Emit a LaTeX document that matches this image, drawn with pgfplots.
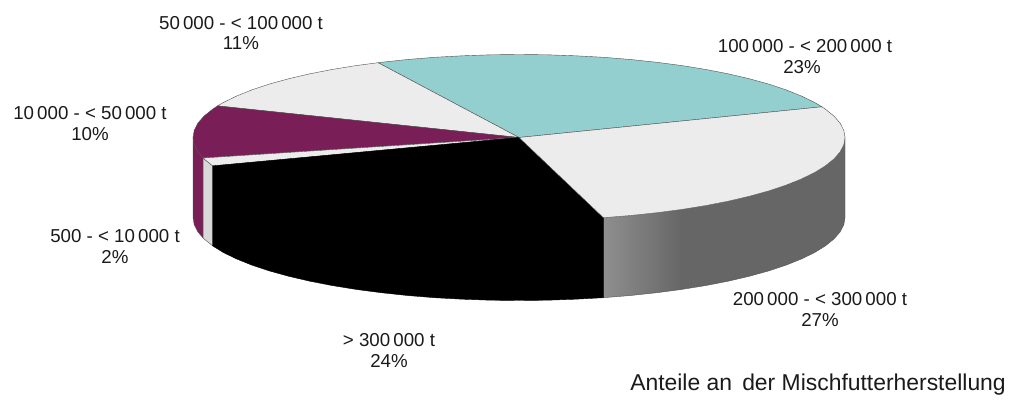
\documentclass[border=0pt]{standalone}
\usepackage{pgfplots}
\pgfplotsset{compat=1.18}
\usepackage{fontspec}
\setmainfont{Liberation Sans}
\definecolor{lgray}{HTML}{ECECEC}
\definecolor{teal1}{HTML}{93CFCF}
\definecolor{purp}{HTML}{7A1E58}
\definecolor{edge}{HTML}{505050}
\definecolor{txt}{HTML}{1A1A1A}
\begin{document}
\begin{tikzpicture}
\useasboundingbox (0,0) rectangle (1014pt,401pt);
\begin{axis}[at={(0,0)},anchor=south west,scale only axis,width=1014pt,height=401pt,
  xmin=0,xmax=1014,ymin=0,ymax=401,y dir=reverse,hide axis,clip=false]
% --- side wall: purple
\addplot[fill=purp,draw=edge,line width=0.4pt] coordinates {(193,137.5)(194.2,144.7)(197.9,151.9)(203.1,158)(203.1,238)(197.9,231.9)(194.2,224.7)(193,217.5)} -- cycle;
% side wall: light
\addplot[fill=lgray!92!black,draw=edge,line width=0.4pt] coordinates {(203.1,158)(204.1,159)(212.7,165.9)(212.7,245.9)(204.1,239)(203.1,238)} -- cycle;
% side wall: gray with gradient
\addplot[left color=black!44,right color=black!60,draw=none] coordinates {(603.4,217.7)(630.5,215.5)(656.8,212.7)(682,209.4)(682,289.4)(656.8,292.7)(630.5,295.5)(603.4,297.7)} -- cycle;
\addplot[fill=black!60,draw=none] coordinates {(681.5,209.4)(706,205.5)(728.6,201.1)(749.5,196.2)(768.7,190.9)(786.1,185.1)(801.3,179)(814.5,172.6)(825.3,165.9)(833.9,159)(840.1,151.9)(843.8,144.7)(845,137.5)
 (845,217.5)(843.8,224.7)(840.1,231.9)(833.9,239)(825.3,245.9)(814.5,252.6)(801.3,259)(786.1,265.1)(768.7,270.9)(749.5,276.2)(728.6,281.1)(706,285.5)(681.5,289.4)} -- cycle;
\addplot[draw=edge,line width=0.4pt] coordinates {(845,137.5)(845,217.5)(843.8,224.7)(840.1,231.9)(833.9,239)(825.3,245.9)(814.5,252.6)(801.3,259)(786.1,265.1)(768.7,270.9)(749.5,276.2)(728.6,281.1)(706,285.5)(682,289.4)(656.8,292.7)(630.5,295.5)(603.4,297.7)};
% --- top face: teal
\addplot[fill=teal1,draw=edge,line width=0.4pt] coordinates {(519,137.5)(821.9,106.8)(814.5,102.4)(801.3,96)(786.1,89.9)(768.7,84.1)(749.5,78.8)(728.6,73.9)(706,69.5)(682,65.6)(656.8,62.3)(630.5,59.5)(603.4,57.3)(575.6,55.8)(547.4,54.8)(519,54.5)(490.6,54.8)(462.4,55.8)(434.6,57.3)(407.5,59.5)(381.2,62.3)(378.1,62.7)} -- cycle;
% top face: 50 000 - 100 000 t
\addplot[fill=lgray,draw=edge,line width=0.4pt] coordinates {(519,137.5)(378.1,62.7)(356,65.6)(332,69.5)(309.4,73.9)(288.5,78.8)(269.3,84.1)(251.9,89.9)(236.7,96)(223.5,102.4)(217.6,105.9)} -- cycle;
% top face: 10 000 - 50 000 t
\addplot[fill=purp,draw=edge,line width=0.4pt] coordinates {(519,137.5)(217.6,105.9)(212.7,109.1)(204.1,116)(197.9,123.1)(194.2,130.3)(193,137.5)(194.2,144.7)(197.9,151.9)(203.1,158)} -- cycle;
% top face: 500 - 10 000 t
\addplot[fill=lgray,draw=edge,line width=0.4pt] coordinates {(519,137.5)(203.1,158)(204.1,159)(212.7,165.9)} -- cycle;
% top face and side wall: > 300 000 t, one outline
\addplot[fill=black,draw=black,line width=0.4pt] coordinates {(519,137.5)(212.7,165.9)(212.7,245.9)(223.5,252.6)(236.7,259)(251.9,265.1)(269.3,270.9)(288.5,276.2)(309.4,281.1)(332,285.5)(356,289.4)(381.2,292.7)(407.5,295.5)(434.6,297.7)(462.4,299.2)(490.6,300.2)(519,300.5)(547.4,300.2)(575.6,299.2)(603.4,297.7)(603.4,217.7)} -- cycle;
% top face: 200 000 - 300 000 t
\addplot[fill=lgray,draw=edge,line width=0.4pt] coordinates {(519,137.5)(603.4,217.7)(630.5,215.5)(656.8,212.7)(682,209.4)(706,205.5)(728.6,201.1)(749.5,196.2)(768.7,190.9)(786.1,185.1)(801.3,179)(814.5,172.6)(825.3,165.9)(833.9,159)(840.1,151.9)(843.8,144.7)(845,137.5)(843.8,130.3)(840.1,123.1)(833.9,116)(825.3,109.1)(821.9,106.8)} -- cycle;
% --- labels
\tikzset{lab/.style={font=\fontsize{18.7}{18.7}\selectfont,text=txt,inner sep=0pt,anchor=center}}
\node[lab] at (axis cs:241,23) {50\,000 - < 100\,000 t};
\node[lab] at (axis cs:241,43) {11\%};
\node[lab] at (axis cs:805,46) {100\,000 - < 200\,000 t};
\node[lab] at (axis cs:802,67) {23\%};
\node[lab] at (axis cs:90,113) {10\,000 - < 50\,000 t};
\node[lab] at (axis cs:90,134) {10\%};
\node[lab] at (axis cs:115,236) {500 - < 10\,000 t};
\node[lab] at (axis cs:115,257) {2\%};
\node[lab] at (axis cs:820,299) {200\,000 - < 300\,000 t};
\node[lab] at (axis cs:820,320) {27\%};
\node[lab] at (axis cs:389,340) {> 300\,000 t};
\node[lab] at (axis cs:389,361) {24\%};
\node[font=\fontsize{22.9}{22.9}\selectfont,text=txt,inner sep=0pt,anchor=center] at (axis cs:818,385) {Anteile an\, der Mischfutterherstellung};
\end{axis}
\end{tikzpicture}
\end{document}
